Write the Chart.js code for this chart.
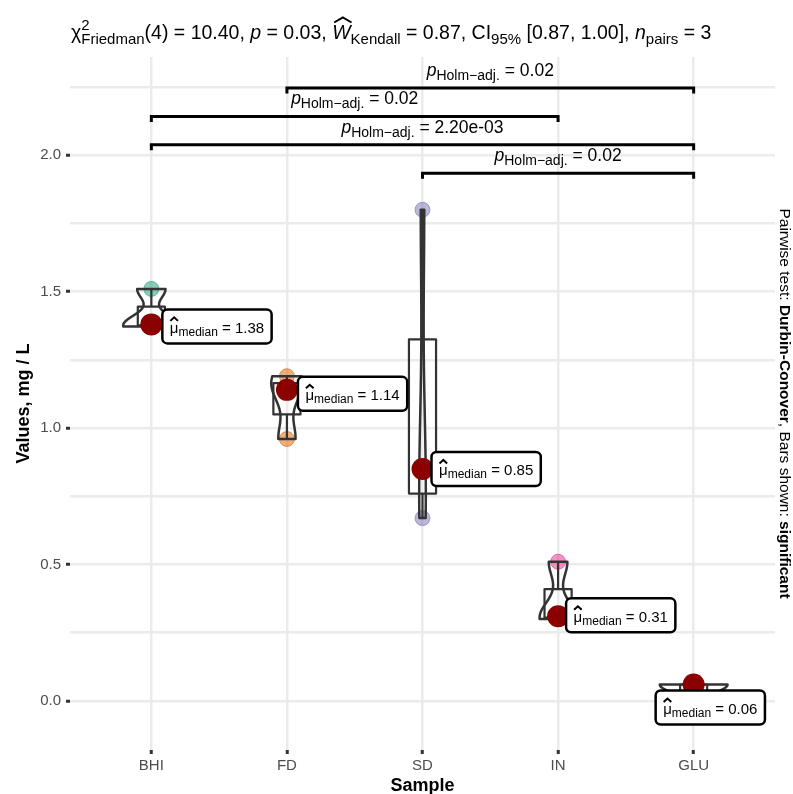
<!DOCTYPE html>
<html>
<head>
<meta charset="utf-8">
<script src="https://cdn.jsdelivr.net/npm/chart.js@4.4.1/dist/chart.umd.min.js"></script>
<style>
  html, body { margin: 0; padding: 0; background: #fff; }
  canvas { display: block; }
</style>
</head>
<body>
<canvas id="chart" width="793" height="794"></canvas>
<script>
// Samples and the three paired readings of each one (mg / L)
const samples = ['BHI', 'FD', 'SD', 'IN', 'GLU'];
const valuesBHI = [1.372, 1.38, 1.51];
const valuesFD = [0.96, 1.14, 1.19];
const valuesSD = [0.67, 0.85, 1.80];
const valuesIN = [0.30, 0.31, 0.51];
const valuesGLU = [-0.055, 0.06, 0.06];
const sampleColors = ['#1B9E77', '#D95F02', '#7570B3', '#E7298A', '#66A61E'];

// y axis ticks
const yTicks = [0, 0.5, 1.0, 1.5, 2.0];
const yTickLabels = ['0.0', '0.5', '1.0', '1.5', '2.0'];
const yMinor = [0.25, 0.75, 1.25, 1.75, 2.25];

// significant pairwise comparisons, lowest bracket first
const pairFrom = ['SD', 'BHI', 'BHI', 'FD'];
const pairTo = ['GLU', 'GLU', 'IN', 'GLU'];
const pairP = ['0.02', '2.20e-03', '0.02', '0.02'];

const groups = [valuesBHI, valuesFD, valuesSD, valuesIN, valuesGLU];
const FONT = '"Liberation Sans", Arial, Helvetica, sans-serif';

// --- small stats helpers (same rules as R: quantile type 7, bw.nrd0) ---
function quantile(v, p) {
    const s = v.slice().sort((a, b) => a - b);
    const h = (s.length - 1) * p, lo = Math.floor(h);
    return lo + 1 < s.length ? s[lo] + (h - lo) * (s[lo + 1] - s[lo]) : s[lo];
}
function bwNrd0(v) {
    const n = v.length;
    const mean = v.reduce((a, b) => a + b, 0) / n;
    const sd = Math.sqrt(v.reduce((a, b) => a + (b - mean) * (b - mean), 0) / (n - 1));
    const iqr = quantile(v, 0.75) - quantile(v, 0.25);
    let lo = Math.min(sd, iqr / 1.34);
    if (!(lo > 0)) lo = sd || Math.abs(v[0]) || 1;
    return 0.9 * lo * Math.pow(n, -0.2);
}
function density(v, bw, y) {
    let d = 0;
    v.forEach(x => { const z = (y - x) / bw; d += Math.exp(-0.5 * z * z); });
    return d / (v.length * bw * Math.sqrt(2 * Math.PI));
}

const medians = groups.map(g => quantile(g, 0.5));

// violin outlines, scaled by area like geom_violin
const violins = groups.map(g => {
    const bw = bwNrd0(g), lo = Math.min(...g), hi = Math.max(...g);
    const ys = [], ds = [];
    for (let k = 0; k < 512; k++) {
        const y = lo + (hi - lo) * k / 511;
        ys.push(y);
        ds.push(density(g, bw, y));
    }
    return { ys: ys, ds: ds };
});
const maxDensity = Math.max(...violins.map(v => Math.max(...v.ds)));

// bracket rows
const bracketBase = 1.934, bracketStep = 0.104, bracketTip = 0.02;
function bracketData(i) {
    const x1 = samples.indexOf(pairFrom[i]) + 1, x2 = samples.indexOf(pairTo[i]) + 1;
    const y = bracketBase + i * bracketStep;
    return [{x: x1, y: y - bracketTip}, {x: x1, y: y}, {x: x2, y: y}, {x: x2, y: y - bracketTip}];
}

// --- rich text (sub / superscripts, hats) ---
function fontOf(p) {
    return (p.i ? 'italic ' : '') + (p.b ? 'bold ' : '') + p.s + 'px ' + FONT;
}
function richWidth(ctx, parts) {
    let w = 0;
    parts.forEach(p => {
        ctx.font = fontOf(p);
        let pw = ctx.measureText(p.t).width;
        if (p.sup) { ctx.font = fontOf({s: p.s}); pw = Math.max(pw, ctx.measureText(p.sup).width); }
        w += pw;
    });
    return w;
}
function drawRich(ctx, parts, x, y) {
    ctx.textAlign = 'left';
    ctx.textBaseline = 'alphabetic';
    parts.forEach(p => {
        ctx.font = fontOf(p);
        const w = ctx.measureText(p.t).width;
        ctx.fillText(p.t, x, y + (p.dy || 0));
        let adv = w;
        if (p.sup) {
            ctx.font = fontOf({s: p.s});
            ctx.fillText(p.sup, x, y - 9);
            adv = Math.max(adv, ctx.measureText(p.sup).width);
        }
        if (p.hat) {
            ctx.save();
            ctx.lineWidth = 2;
            ctx.strokeStyle = ctx.fillStyle;
            ctx.beginPath();
            if (p.hat === 'wide') {
                ctx.moveTo(x + 2, y - 16.5);
                ctx.lineTo(x + w / 2 + 1.5, y - 21.5);
                ctx.lineTo(x + w + 1, y - 16.5);
            } else {
                ctx.moveTo(x + 0.5, y - 12);
                ctx.lineTo(x + w / 2, y - 15.5);
                ctx.lineTo(x + w - 0.5, y - 12);
            }
            ctx.stroke();
            ctx.restore();
        }
        x += adv;
    });
}

const titleParts = [
    {t: 'χ', s: 19.5}, {t: 'Friedman', s: 15, dy: 5, sup: '2'},
    {t: '(4) = 10.40, ', s: 19.5}, {t: 'p', s: 19.5, i: true}, {t: ' = 0.03, ', s: 19.5},
    {t: 'W', s: 19.5, i: true, hat: 'wide'}, {t: 'Kendall', s: 15, dy: 5},
    {t: ' = 0.87, CI', s: 19.5}, {t: '95%', s: 15, dy: 5}, {t: ' [0.87, 1.00], ', s: 19.5},
    {t: 'n', s: 19.5, i: true}, {t: 'pairs', s: 15, dy: 5}, {t: ' = 3', s: 19.5}
];
function pParts(p) {
    return [{t: 'p', s: 17.5, i: true}, {t: 'Holm\u2212adj.', s: 14, dy: 4}, {t: ' = ' + p, s: 17.5}];
}
function medianParts(m) {
    return [{t: 'μ', s: 15, hat: 'small'}, {t: 'median', s: 12, dy: 3}, {t: ' = ' + m.toFixed(2), s: 15}];
}
// where each median label box sits relative to its point (px): left offset, top offset
const labelShift = [[11, -15], [11, -13], [9, -17], [8, -18], [-38, 6]];

function roundRect(ctx, x, y, w, h, r) {
    ctx.beginPath();
    ctx.moveTo(x + r, y);
    ctx.arcTo(x + w, y, x + w, y + h, r);
    ctx.arcTo(x + w, y + h, x, y + h, r);
    ctx.arcTo(x, y + h, x, y, r);
    ctx.arcTo(x, y, x + w, y, r);
    ctx.closePath();
}

// boxes + violins, drawn right over the raw points
const shapesPlugin = {
    id: 'shapes',
    afterDatasetDraw(chart, args) {
        if (args.index !== chart.data.datasets.length - 1) return;
        const ctx = chart.ctx, xs = chart.scales.x, ys = chart.scales.y;
        ctx.save();
        ctx.strokeStyle = '#333333';
        ctx.lineJoin = 'round';
        groups.forEach((g, i) => {
            const cx = i + 1;
            // box
            const q1 = quantile(g, 0.25), q3 = quantile(g, 0.75), iqr = q3 - q1;
            const lowW = Math.min(...g.filter(v => v >= q1 - 1.5 * iqr));
            const highW = Math.max(...g.filter(v => v <= q3 + 1.5 * iqr));
            const bl = xs.getPixelForValue(cx - 0.1), br = xs.getPixelForValue(cx + 0.1);
            const px = xs.getPixelForValue(cx);
            ctx.lineWidth = 2.2;
            ctx.strokeRect(bl, ys.getPixelForValue(q3), br - bl, ys.getPixelForValue(q1) - ys.getPixelForValue(q3));
            ctx.beginPath();
            ctx.moveTo(px, ys.getPixelForValue(q3));
            ctx.lineTo(px, ys.getPixelForValue(highW));
            ctx.moveTo(px, ys.getPixelForValue(q1));
            ctx.lineTo(px, ys.getPixelForValue(lowW));
            ctx.stroke();
            // violin
            const v = violins[i];
            ctx.lineWidth = 2.5;
            ctx.beginPath();
            v.ys.forEach((y, k) => {
                const hw = v.ds[k] / maxDensity * 0.25;
                const X = xs.getPixelForValue(cx + hw), Y = ys.getPixelForValue(y);
                if (k === 0) ctx.moveTo(X, Y); else ctx.lineTo(X, Y);
            });
            for (let k = v.ys.length - 1; k >= 0; k--) {
                const hw = v.ds[k] / maxDensity * 0.25;
                ctx.lineTo(xs.getPixelForValue(cx - hw), ys.getPixelForValue(v.ys[k]));
            }
            ctx.closePath();
            ctx.stroke();
        });
        ctx.restore();
    },
    afterDraw(chart) {
        const ctx = chart.ctx, xs = chart.scales.x, ys = chart.scales.y, area = chart.chartArea;
        ctx.save();
        ctx.fillStyle = '#000';
        // title
        drawRich(ctx, titleParts, 71, 39);
        // bracket labels
        pairP.forEach((p, i) => {
            const x1 = samples.indexOf(pairFrom[i]) + 1, x2 = samples.indexOf(pairTo[i]) + 1;
            const parts = pParts(p);
            const w = richWidth(ctx, parts);
            const mid = xs.getPixelForValue((x1 + x2) / 2);
            const y = ys.getPixelForValue(bracketBase + i * bracketStep) - 12;
            drawRich(ctx, parts, mid - w / 2, y);
        });
        // median labels
        medians.forEach((m, i) => {
            const px = xs.getPixelForValue(i + 1), py = ys.getPixelForValue(m);
            const parts = medianParts(m);
            const w = richWidth(ctx, parts) + 15, h = 34;
            const left = px + labelShift[i][0], top = py + labelShift[i][1];
            roundRect(ctx, left, top, w, h, 5);
            ctx.fillStyle = '#fff';
            ctx.fill();
            ctx.lineWidth = 2.5;
            ctx.strokeStyle = '#000';
            ctx.stroke();
            ctx.fillStyle = '#000';
            drawRich(ctx, parts, left + 7.5, top + 23.5);
        });
        // axis titles
        ctx.font = 'bold 18px ' + FONT;
        ctx.textAlign = 'center';
        ctx.textBaseline = 'middle';
        ctx.fillText('Sample', (area.left + area.right) / 2, 786);
        ctx.save();
        ctx.translate(24, (area.top + area.bottom) / 2);
        ctx.rotate(-Math.PI / 2);
        ctx.fillText('Values, mg / L', 0, 0);
        ctx.restore();
        // caption on the right
        const cap = [{t: 'Pairwise test: ', s: 15.5}, {t: 'Durbin-Conover', s: 15.5, b: true},
                     {t: ', Bars shown: ', s: 15.5}, {t: 'significant', s: 15.5, b: true}];
        ctx.save();
        ctx.translate(785, (area.top + area.bottom) / 2);
        ctx.rotate(Math.PI / 2);
        drawRich(ctx, cap, -richWidth(ctx, cap) / 2, 5.5);
        ctx.restore();
        ctx.restore();
    }
};

const pointData = [], pointColors = [];
groups.forEach((g, i) => g.forEach(v => {
    pointData.push({x: i + 1, y: v});
    pointColors.push(sampleColors[i]);
}));

const datasets = [{
    label: 'median',
    data: medians.map((m, i) => ({x: i + 1, y: m})),
    pointRadius: 11,
    pointBackgroundColor: '#8B0000',
    pointBorderWidth: 0,
    showLine: false
}];
pairP.forEach((p, i) => datasets.push({
    label: 'pair ' + i,
    data: bracketData(i),
    showLine: true,
    pointRadius: 0,
    borderColor: '#000',
    borderWidth: 3,
    borderCapStyle: 'butt',
    borderJoinStyle: 'miter'
}));
datasets.push({
    label: 'points',
    data: pointData,
    pointRadius: 7.5,
    pointBackgroundColor: pointColors.map(c => c + '80'),
    pointBorderColor: pointColors.map(c => c + '99'),
    pointBorderWidth: 1,
    showLine: false
});

new Chart(document.getElementById('chart'), {
    type: 'scatter',
    data: { datasets: datasets },
    options: {
        responsive: false,
        animation: false,
        devicePixelRatio: 1,
        layout: { padding: { top: 57, right: 18, left: 0, bottom: 0 } },
        plugins: { legend: { display: false }, tooltip: { enabled: false } },
        scales: {
            x: {
                type: 'linear', min: 0.4, max: 5.6,
                afterBuildTicks: s => { s.ticks = samples.map((_, i) => ({value: i + 1})); },
                afterFit: s => { s.height = 44; },
                ticks: {
                    callback: v => samples[Math.round(v) - 1] || '',
                    color: '#4D4D4D', font: {family: FONT, size: 15}, padding: 3,
                    maxRotation: 0, autoSkip: false
                },
                grid: { color: '#EBEBEB', lineWidth: 2.5, tickColor: '#333', tickLength: 4, tickWidth: 3 },
                border: { display: false }
            },
            y: {
                type: 'linear', min: -0.18, max: 2.36,
                afterBuildTicks: s => { s.ticks = yTicks.concat(yMinor).sort((a, b) => a - b).map(v => ({value: v})); },
                afterFit: s => { s.width = 70; },
                ticks: {
                    callback: v => { const k = yTicks.indexOf(v); return k >= 0 ? yTickLabels[k] : ''; },
                    color: '#4D4D4D', font: {family: FONT, size: 15}, padding: 5, autoSkip: false
                },
                grid: {
                    color: '#EBEBEB', lineWidth: 2.5, tickLength: 4, tickWidth: 3,
                    tickColor: c => yTicks.includes(c.tick.value) ? '#333' : 'rgba(0,0,0,0)'
                },
                border: { display: false }
            }
        }
    },
    plugins: [shapesPlugin]
});
</script>
</body>
</html>
